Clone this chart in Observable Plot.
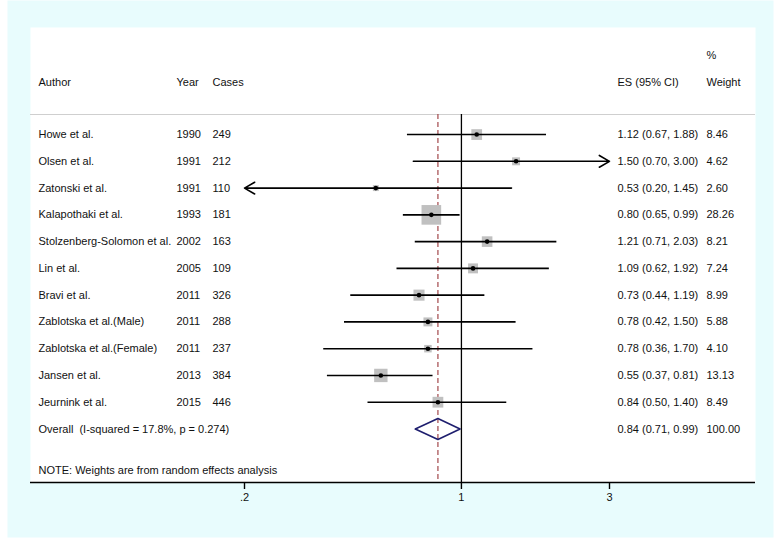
<!DOCTYPE html>
<html>
<head>
<meta charset="utf-8">
<script src="https://cdn.jsdelivr.net/npm/d3@7"></script>
<script src="https://cdn.jsdelivr.net/npm/@observablehq/plot@0.6"></script>
<style>
  html, body { margin: 0; padding: 0; background: #ffffff; }
  svg { white-space: pre; }
</style>
</head>
<body>
<div id="chart"></div>
<script>
// ---- data ----
const authors = ["Howe et al.", "Olsen et al.", "Zatonski et al.", "Kalapothaki et al.",
  "Stolzenberg-Solomon et al.", "Lin et al.", "Bravi et al.", "Zablotska et al.(Male)",
  "Zablotska et al.(Female)", "Jansen et al.", "Jeurnink et al."];
const years = [1990, 1991, 1991, 1993, 2002, 2005, 2011, 2011, 2011, 2013, 2015];
const cases = [249, 212, 110, 181, 163, 109, 326, 288, 237, 384, 446];
const es = [1.12, 1.50, 0.53, 0.80, 1.21, 1.09, 0.73, 0.78, 0.78, 0.55, 0.84];
const lo = [0.67, 0.70, 0.20, 0.65, 0.71, 0.62, 0.44, 0.42, 0.36, 0.37, 0.50];
const hi = [1.88, 3.00, 1.45, 0.99, 2.03, 1.92, 1.19, 1.50, 1.70, 0.81, 1.40];
const weights = [8.46, 4.62, 2.60, 28.26, 8.21, 7.24, 8.99, 5.88, 4.10, 13.13, 8.49];

const overallLabel = "Overall  (I-squared = 17.8%, p = 0.274)";
const overallES = 0.84, overallLo = 0.71, overallHi = 0.99, overallWeight = 100.00;
const noteText = "NOTE: Weights are from random effects analysis";

const xTicks = [0.2, 1, 3];
const xTickLabels = [".2", "1", "3"];
const xRange = [0.2, 3];

// ---- derived tables ----
const rows = authors.map((a, i) => ({
  i, author: a, year: years[i], cases: cases[i], es: es[i], lo: lo[i], hi: hi[i], w: weights[i],
  esText: `${es[i].toFixed(2)} (${lo[i].toFixed(2)}, ${hi[i].toFixed(2)})`,
  wText: weights[i].toFixed(2)
}));
const overallRow = authors.length; // row index 11
const headerLineY = -0.75, axisY = 13;
const ciRules = rows.filter(d => d.lo > xRange[0] && d.hi < xRange[1]);
const ciArrows = [];
rows.forEach(d => {
  if (d.hi >= xRange[1]) ciArrows.push({y: d.i, x1: Math.max(d.lo, xRange[0]), x2: xRange[1]});
  else if (d.lo <= xRange[0]) ciArrows.push({y: d.i, x1: Math.min(d.hi, xRange[1]), x2: xRange[0]});
});
const diamond = [
  {x: overallLo, y: overallRow}, {x: overallES, y: overallRow - 0.39},
  {x: overallHi, y: overallRow}, {x: overallES, y: overallRow + 0.39}
];
const headers = [
  {t: "Author", y: -1.95, dx: -206, a: "left"},
  {t: "Year", y: -1.95, dx: -68, a: "left"},
  {t: "Cases", y: -1.95, dx: -32, a: "left"},
  {t: "ES (95% CI)", y: -1.95, dx: 8, a: "right"},
  {t: "%", y: -2.95, dx: 97, a: "right"},
  {t: "Weight", y: -1.95, dx: 97, a: "right"}
];
const overallTexts = [
  {t: overallLabel, dx: -206, a: "left"},
  {t: `${overallES.toFixed(2)} (${overallLo.toFixed(2)}, ${overallHi.toFixed(2)})`, dx: 8, a: "right"},
  {t: overallWeight.toFixed(2), dx: 97, a: "right"}
];

const font = "'Liberation Sans', Arial, Helvetica, sans-serif";
const txt = "#111";

const chart = Plot.plot({
  width: 780,
  height: 552,
  marginLeft: 244,
  marginRight: 171,
  marginTop: 27,
  marginBottom: 70,
  style: {fontFamily: font, fontSize: "11px", background: "transparent"},
  x: {type: "log", domain: xRange, axis: null},
  y: {domain: [-4, 13], reverse: true, axis: null},
  r: {type: "sqrt", domain: [0, 100], range: [0, 20.85]},
  marks: [
    // outer light-blue background and white plot panel
    Plot.frame({fill: "#e8fcfd", stroke: null, insetLeft: -237, insetRight: -164, insetTop: -27, insetBottom: -55}),
    Plot.frame({fill: "#ffffff", stroke: null, insetLeft: -214, insetRight: -146}),
    // header separator
    Plot.ruleY([headerLineY], {stroke: "#cfcfcf", strokeWidth: 1, insetLeft: -214, insetRight: -146}),
    // null line and overall line
    Plot.ruleX([1], {y1: headerLineY, y2: axisY, stroke: "#000", strokeWidth: 1.3}),
    Plot.ruleX([overallES], {y1: headerLineY, y2: axisY, stroke: "#a2484a", strokeWidth: 1.2, strokeDasharray: "5,3"}),
    // weight boxes
    Plot.dot(rows, {x: "es", y: "i", r: "w", symbol: "square", fill: "#c0c0c0", stroke: null}),
    // confidence intervals
    Plot.ruleY(ciRules, {y: "i", x1: "lo", x2: "hi", stroke: "#000", strokeWidth: 1.6}),
    Plot.arrow(ciArrows, {x1: "x1", x2: "x2", y1: "y", y2: "y", stroke: "#000", strokeWidth: 1.6, headLength: 11, headAngle: 60, bend: 0}),
    // point estimates
    Plot.dot(rows, {x: "es", y: "i", r: 2.3, fill: "#000", stroke: null}),
    // overall diamond
    Plot.line(diamond, {x: "x", y: "y", curve: "linear-closed", stroke: "#1e1e6e", strokeWidth: 1.6}),
    // table text
    ...headers.map(h => Plot.text([h], {y: "y", text: "t", frameAnchor: h.a, textAnchor: "start", dx: h.dx, fill: txt})),
    Plot.text(rows, {y: "i", text: "author", frameAnchor: "left", textAnchor: "start", dx: -206, fill: txt}),
    Plot.text(rows, {y: "i", text: d => String(d.year), frameAnchor: "left", textAnchor: "start", dx: -68, fill: txt}),
    Plot.text(rows, {y: "i", text: d => String(d.cases), frameAnchor: "left", textAnchor: "start", dx: -32, fill: txt}),
    Plot.text(rows, {y: "i", text: "esText", frameAnchor: "right", textAnchor: "start", dx: 8, fill: txt}),
    Plot.text(rows, {y: "i", text: "wText", frameAnchor: "right", textAnchor: "start", dx: 97, fill: txt}),
    ...overallTexts.map(o => Plot.text([o], {y: overallRow, text: "t", frameAnchor: o.a, textAnchor: "start", dx: o.dx, fill: txt})),
    Plot.text([noteText], {y: 12.55, text: d => d, frameAnchor: "left", textAnchor: "start", dx: -206, fill: txt}),
    // x axis
    Plot.ruleY([axisY], {stroke: "#000", strokeWidth: 1.5, insetLeft: -214, insetRight: -146}),
    Plot.axisX({ticks: xTicks, tickFormat: d => xTickLabels[xTicks.indexOf(d)], tickSize: 7, tickPadding: 4, strokeWidth: 1.4, fill: txt, fontSize: 11, label: null})
  ]
});
document.getElementById("chart").appendChild(chart);
</script>
</body>
</html>
